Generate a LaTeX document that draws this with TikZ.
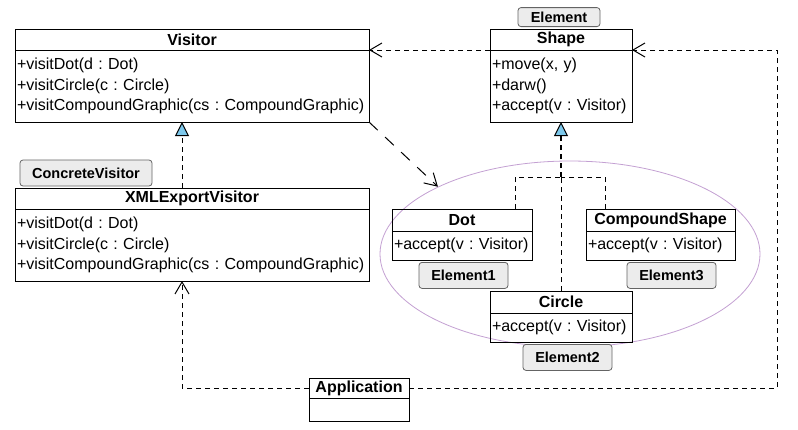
\documentclass[tikz,border=0pt]{standalone}
\usepackage{fontspec}
\setmainfont{Liberation Sans}
\usetikzlibrary{positioning,shapes.geometric,arrows.meta}
\definecolor{tipblue}{RGB}{125,200,235}
\definecolor{groupline}{RGB}{195,160,210}
\definecolor{tagfill}{RGB}{236,236,236}
\definecolor{tagline}{RGB}{100,100,100}
\frenchspacing
\hyphenpenalty=10000
\exhyphenpenalty=10000

\begin{document}
\begin{tikzpicture}[x=1pt, y=-1pt,
    classtitle/.style={draw, line width=1pt, outer sep=0pt, inner sep=0pt, minimum height=21pt,
        font=\fontsize{16}{18}\selectfont\bfseries},
    classbody/.style={draw, line width=1pt, outer sep=0pt, inner xsep=2pt, inner ysep=0pt, align=left,
        font=\fontsize{16}{20.5}\selectfont},
    tag/.style={draw=tagline, line width=0.8pt, fill=tagfill, rounded corners=3pt, inner sep=0pt, minimum height=26pt,
        font=\fontsize{14.5}{17}\selectfont\bfseries},
    tie/.style={line width=1pt, dash pattern=on 5pt off 4pt},
    dep/.style={tie, -{Straight Barb[length=12pt,width=14pt]}},
    real/.style={tie, -{Triangle[length=14pt,width=14pt,fill=tipblue,line width=1pt]}}
]

    \useasboundingbox (0,0) rectangle (798,429);

    % Group of elements
    \node[ellipse, draw=groupline, line width=0.8pt, minimum width=380pt, minimum height=186pt, inner sep=0pt] (group) at (570,254) {};

    % Visitor
    \node[classtitle, minimum width=354pt] (visitor) at (192,39.5) {Visitor};
    \node[classbody, text width=350pt, minimum height=72pt, below=0pt of visitor] (visitorops)
        {+visitDot(d : Dot)\\+visitCircle(c : Circle)\\+visitCompoundGraphic(cs : CompoundGraphic)};

    % XMLExportVisitor
    \node[classtitle, minimum width=354pt] (xmlvisitor) at (192,198.5) {XMLExportVisitor};
    \node[classbody, text width=350pt, minimum height=72pt, below=0pt of xmlvisitor] (xmlvisitorops)
        {+visitDot(d : Dot)\\+visitCircle(c : Circle)\\+visitCompoundGraphic(cs : CompoundGraphic)};
    \node[tag, minimum width=132pt] (concretetag) at (86,173) {ConcreteVisitor};

    % Shape
    \node[classtitle, minimum width=142pt] (shape) at (561,39.5) {Shape};
    \node[classbody, text width=138pt, minimum height=72pt, below=0pt of shape] (shapeops)
        {+move(x, y)\\+darw()\\+accept(v : Visitor)};
    \node[tag, minimum width=82pt, minimum height=19pt, above=2pt of shape, xshift=-2pt] (elementtag) {Element};

    % Dot
    \node[classtitle, minimum width=140pt, minimum height=22pt] (dot) at (462,220) {Dot};
    \node[classbody, text width=136pt, minimum height=29pt, below=0pt of dot] (dotops) {+accept(v : Visitor)};
    \node[tag, minimum width=89pt, below=2pt of dotops, xshift=1.5pt] (element1tag) {Element1};

    % CompoundShape
    \node[classtitle, minimum width=149pt, minimum height=22pt] (compound) at (660.5,220) {CompoundShape};
    \node[classbody, text width=145pt, minimum height=29pt, below=0pt of compound] (compoundops) {+accept(v : Visitor)};
    \node[tag, minimum width=89pt, below=2pt of compoundops, xshift=11pt] (element3tag) {Element3};

    % Circle
    \node[classtitle, minimum width=142pt, minimum height=22pt] (circle) at (561,302) {Circle};
    \node[classbody, text width=138pt, minimum height=29pt, below=0pt of circle] (circleops) {+accept(v : Visitor)};
    \node[tag, minimum width=89pt, below=2pt of circleops, xshift=6.5pt] (element2tag) {Element2};

    % Application
    \node[classtitle, minimum width=100pt, minimum height=20pt] (app) at (359,388) {Application};
    \node[classbody, minimum width=100pt, minimum height=23pt, below=0pt of app] (appops) {};

    % Connectors
    \coordinate (branch) at (561,177);
    \coordinate (corner) at (777,50);
    \draw[real] ([xshift=-10pt]xmlvisitor.north) -- ([xshift=-10pt]visitorops.south);
    \draw[tie] (circle.north) -- (branch);
    \draw[real, line width=1.6pt] (branch) -- (shapeops.south);
    \draw[tie] ([xshift=53pt]dot.north) |- (branch);
    \draw[tie] ([xshift=-55.5pt]compound.north) |- (branch);
    \draw[dep] (app.west) -| ([xshift=-10pt]xmlvisitorops.south);
    \draw[dep] (app.east) -| (corner) -- (shapeops.north east);
    \draw[dep] (shapeops.north west) -- (visitorops.north east);
    \draw[dep, dash pattern=on 12pt off 10pt] (visitorops.south east) -- (group.153);

\end{tikzpicture}
\end{document}
